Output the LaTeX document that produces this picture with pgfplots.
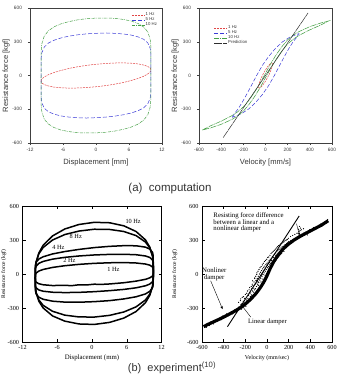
\documentclass[border=0pt]{standalone}
\usepackage{fontspec}
\setmainfont{Liberation Serif}
\setsansfont{Liberation Sans}
\usepackage{pgfplots}
\pgfplotsset{compat=1.18}
\usetikzlibrary{arrows.meta}

\definecolor{cred}{RGB}{225,70,70}
\definecolor{cblue}{RGB}{60,60,215}
\definecolor{cgreen}{RGB}{70,160,70}
\definecolor{cpred}{RGB}{45,45,45}
\definecolor{txt}{RGB}{55,55,55}
\newcommand{\fs}[1]{\fontsize{#1}{#1}\selectfont}

\pgfplotsset{
 topstyle/.style={scale only axis, tick align=outside, xtick pos=bottom, ytick pos=left,
   major tick length=2pt, tick style={black!75,thin}, axis line style={black!75,thin},
   tick label style={font=\sffamily\fs{4.8}, text=txt},
   label style={font=\sffamily\fs{7.6}, text=txt},
   /pgf/number format/assume math mode=true,
   ymin=-600, ymax=600, ytick={-600,-300,0,300,600},
   yticklabel style={xshift=-2.5pt},
   legend style={draw=none, fill=none, font=\sffamily\fs{4.3}, text=txt, nodes={inner sep=0.5pt}, row sep=-0.4pt},
   legend cell align=left,
   legend image code/.code={\draw[##1] (0pt,0pt) -- (13pt,0pt);}},
 botstyle/.style={scale only axis, tick align=inside, major tick length=3pt,
   tick style={black,thin}, axis line style={black,thin},
   tick label style={font=\rmfamily\fs{6.2}},
   label style={font=\rmfamily\fs{6.4}},
   /pgf/number format/assume math mode=true,
   ymin=-600, ymax=600, ytick={-600,-300,0,300,600}},
 loop/.style={black, line width=1.5pt, no marks, line join=round},
}

\pgfplotstableread{
v F
-262 -250
-258 -290
-251 -300
-246 -235
-240 -270
-243 -220
-236 -310
-229 -205
-233 -265
-220 -240
-224 -290
-216 -200
-210 -260
-206 -215
-200 -180
-203 -250
-195 -285
-190 -230
-187 -170
-180 -150
-176 -215
-183 -260
-170 -190
-166 -140
-173 -235
-160 -120
-157 -175
-163 -225
-154 -200
-150 -160
-146 -110
-153 -205
-140 -130
-137 -90
-143 -185
-134 -150
-130 -100
-126 -160
-133 -60
-122 -125
-120 -70
-117 -140
-124 -110
-113 -40
-110 -90
-106 -130
-114 -35
-102 -60
-100 -55
-97 -110
-104 -20
-92 -80
-95 -5
-90 -40
-86 -95
-93 10
-84 -65
-80 -20
-76 -75
-83 25
-73 -45
-78 -100
-70 0
-66 -55
-74 40
-63 -30
-60 15
-57 -40
-64 55
-53 -15
-56 -70
-50 30
-47 -20
-54 65
-44 0
-40 45
-36 -5
-43 80
-33 20
-38 -45
-30 60
-27 10
-34 95
-24 35
-20 70
-16 25
-23 110
-14 45
-18 -10
-10 85
-6 40
-13 120
-4 5
0 95
4 55
-3 130
6 20
2 75
10 105
14 65
7 145
16 30
20 120
24 80
17 150
26 45
22 100
30 130
34 95
27 165
36 60
40 140
44 105
37 180
46 75
42 120
50 155
54 115
47 190
56 90
60 165
64 130
57 200
66 100
62 145
70 175
74 140
67 210
76 115
80 185
84 150
77 220
86 125
82 165
90 195
94 160
87 230
96 140
100 205
104 170
97 240
106 150
110 215
114 180
107 250
116 160
120 220
124 190
117 255
126 170
130 230
134 200
127 265
136 180
140 240
144 210
137 270
150 245
154 220
147 280
156 200
160 255
164 230
157 285
170 260
174 240
167 295
180 270
184 245
177 300
190 275
194 255
187 305
200 285
204 260
197 315
220 295
224 270
217 330
240 305
244 285
237 340
260 315
264 300
257 350
280 330
284 310
277 360
298 340
302 320
296 375
300 420
291 395
305 385
310 405
320 350
324 335
317 390
340 360
344 345
337 400
-575 -455
-560 -470
-548 -438
-530 -455
-515 -420
-495 -440
-480 -410
-462 -418
-440 -392
-425 -405
-410 -372
-390 -385
-372 -352
-355 -368
-335 -338
-318 -352
-300 -318
-282 -340
380 372
395 390
415 378
430 410
448 395
462 420
480 412
495 440
510 425
528 452
545 448
560 480
552 465
372 345
355 368
338 340
}\scatterdata

\begin{document}
\begin{tikzpicture}
\useasboundingbox (0pt,0pt) rectangle (339pt,375pt);

% ---------------- top-left
\begin{axis}[topstyle, at={(30pt,367pt)}, anchor=north west, width=132pt, height=135pt,
  xmin=-12, xmax=12, xtick={-12,-6,0,6,12},
  xlabel={Displacement [mm]}, ylabel={Resistance force [kgf]},
  xlabel style={at={(axis description cs:0.5,-0.141)}, anchor=center},
  ylabel style={at={(axis description cs:-0.18,0.5)}, anchor=center},
  legend style={at={(rel axis cs:0.99,0.985)}, anchor=north east}]
\addplot[cred, line width=0.5pt, dash pattern=on 2pt off 1pt] coordinates {
(-10,-50) (-9.85,-32) (-9.40,-13) (-8.66,7) (-7.66,26) (-6.43,44) (-5,62) (-3.42,77) (-1.74,90) (0,100) (1.74,107) (3.42,111) (5,112) (6.43,109) (7.66,103) (8.66,93) (9.40,81) (9.85,67) (10,50)
(9.85,32) (9.40,13) (8.66,-7) (7.66,-26) (6.43,-44) (5,-62) (3.42,-77) (1.74,-90) (0,-100) (-1.74,-107) (-3.42,-111) (-5,-112) (-6.43,-109) (-7.66,-103) (-8.66,-93) (-9.40,-81) (-9.85,-67) (-10,-50)};
\addlegendentry{1 Hz}
\addplot[cblue, line width=0.5pt, dash pattern=on 4pt off 2pt] coordinates {
(-10,-20) (-9.99,117) (-9.96,160) (-9.85,202) (-9.40,253) (-8.66,288) (-7.66,313) (-6.43,333) (-5,349) (-3.42,361) (-1.74,370) (0,375) (1.74,378) (3.42,375) (5,369) (6.43,359) (7.66,343) (8.66,322) (9.40,291) (9.85,242) (9.96,200) (9.99,157) (10,20)
(9.99,-117) (9.96,-160) (9.85,-202) (9.40,-253) (8.66,-288) (7.66,-313) (6.43,-333) (5,-349) (3.42,-361) (1.74,-370) (0,-375) (-1.74,-378) (-3.42,-375) (-5,-369) (-6.43,-359) (-7.66,-343) (-8.66,-322) (-9.40,-291) (-9.85,-242) (-9.96,-200) (-9.99,-157) (-10,-20)};
\addlegendentry{5 Hz}
\addplot[cgreen, line width=0.5pt, dash pattern=on 3pt off 1pt on 0.6pt off 1pt] coordinates {
(-10,-20) (-9.99,166) (-9.96,225) (-9.85,282) (-9.40,351) (-8.66,397) (-7.66,432) (-6.43,458) (-5,478) (-3.42,494) (-1.74,505) (0,510) (1.74,511) (3.42,508) (5,498) (6.43,484) (7.66,462) (8.66,431) (9.40,389) (9.85,322) (9.96,265) (9.99,206) (10,20)
(9.99,-166) (9.96,-225) (9.85,-282) (9.40,-351) (8.66,-397) (7.66,-432) (6.43,-458) (5,-478) (3.42,-494) (1.74,-505) (0,-510) (-1.74,-511) (-3.42,-508) (-5,-498) (-6.43,-484) (-7.66,-462) (-8.66,-431) (-9.40,-389) (-9.85,-322) (-9.96,-265) (-9.99,-206) (-10,-20)};
\addlegendentry{10 Hz}
\end{axis}

% ---------------- top-right
\begin{axis}[topstyle, at={(199pt,367pt)}, anchor=north west, width=133pt, height=135pt,
  xmin=-600, xmax=600, xtick={-600,-400,-200,0,200,400,600},
  xlabel={Velocity [mm/s]}, ylabel={Resistance force [kgf]},
  xlabel style={at={(axis description cs:0.5,-0.141)}, anchor=center},
  ylabel style={at={(axis description cs:-0.18,0.5)}, anchor=center},
  legend style={at={(rel axis cs:0.09,0.89)}, anchor=north west}]
\addplot[cred, line width=0.5pt, dash pattern=on 2pt off 1pt] coordinates {
(63,100) (60.9,109.5) (54.6,111.6) (44.5,106.1) (31.5,93.3) (16.3,74.2) (0,50) (-16.3,22.4) (-31.5,-6.7) (-44.5,-35.4) (-54.6,-61.6) (-60.9,-83.7) (-63,-100) (-60.9,-109.5) (-54.6,-111.6) (-44.5,-106.1) (-31.5,-93.3) (-16.3,-74.2) (0,-50) (16.3,-22.4) (31.5,6.7) (44.5,35.4) (54.6,61.6) (60.9,83.7) (63,100)};
\addlegendentry{1 Hz}
\addplot[cblue, line width=0.5pt, dash pattern=on 4pt off 2pt] coordinates {
(-300,-372) (-282,-340) (-248,-298) (-211,-240) (-171,-170) (-128,-90) (-80,0) (-28,90) (29,170) (89,240) (152,298) (218,340) (300,372)
(282,340) (248,298) (211,240) (171,170) (128,90) (80,0) (28,-90) (-29,-170) (-89,-240) (-152,-298) (-218,-340) (-300,-372)};
\addlegendentry{5 Hz}
\addplot[cgreen, line width=0.55pt, dash pattern=on 5pt off 0.8pt on 0.8pt off 0.8pt] coordinates {
(-570,-485) (-500,-449) (-400,-406) (-300,-355) (-250,-322) (-200,-279) (-150,-221) (-100,-150) (-50,-70) (0,20) (50,110) (100,190) (150,259) (200,317) (250,358) (300,389) (400,434) (500,467) (570,485)
(500,449) (400,406) (300,355) (250,322) (200,279) (150,221) (100,150) (50,70) (0,-20) (-50,-110) (-100,-190) (-150,-259) (-200,-317) (-250,-358) (-300,-389) (-400,-434) (-500,-467) (-570,-485)};
\addlegendentry{10 Hz}
\addplot[cpred, line width=0.5pt, dash pattern=on 8pt off 0.6pt] coordinates {(-382,-552) (384,556)};
\addlegendentry{Prediction}
\end{axis}

% ---------------- bottom-left
\begin{axis}[botstyle, at={(22.5pt,169pt)}, anchor=north west, width=139pt, height=136pt,
  xmin=-12, xmax=12, xtick={-12,-6,0,6,12},
  xlabel={Displacement (mm)}, ylabel={Resistance force (kgf)},
  ylabel style={font=\rmfamily\fs{5.6}, at={(axis description cs:-0.135,0.5)}, anchor=center},
  xlabel style={font=\rmfamily\fs{6.8}, at={(axis description cs:0.5,-0.118)}, anchor=center}]
\addplot[loop] coordinates {
(-9.8,-35) (-9.76,49) (-9.65,101) (-9.18,185) (-8.43,254) (-6.81,336) (-4.7,397) (-2.24,437) (0.4,456) (3.04,452) (5.5,425) (7.61,375) (9.23,301) (9.98,237) (10.45,156) (10.56,104) (10.6,20)
(10.56,-59) (10.45,-109) (9.98,-188) (9.23,-253) (7.61,-331) (5.5,-389) (3.04,-427) (0.4,-445) (-2.24,-441) (-4.7,-416) (-6.81,-370) (-8.43,-300) (-9.18,-240) (-9.65,-163) (-9.76,-114) (-9.8,-35)};
\addplot[loop] coordinates {
(-9.8,-35) (-9.76,58) (-9.65,106) (-9.18,178) (-8.43,234) (-6.81,300) (-4.7,348) (-2.24,379) (0.4,395) (3.04,393) (5.5,375) (7.61,339) (9.23,282) (9.98,230) (10.45,160) (10.56,113) (10.6,20)
(10.56,-66) (10.45,-111) (9.98,-177) (9.23,-229) (7.61,-290) (5.5,-335) (3.04,-365) (0.4,-380) (-2.24,-379) (-4.7,-363) (-6.81,-329) (-8.43,-277) (-9.18,-229) (-9.65,-165) (-9.76,-121) (-9.8,-35)};
\addplot[loop] coordinates {
(-9.8,-35) (-9.76,82) (-9.65,104) (-9.18,132) (-8.43,152) (-6.81,177) (-4.7,198) (-2.24,217) (0.4,233) (3.04,244) (5.5,250) (7.61,249) (9.23,237) (9.98,220) (10.45,191) (10.56,164) (10.6,20)
(10.56,-94) (10.45,-120) (9.98,-153) (9.23,-176) (7.61,-201) (5.5,-220) (3.04,-235) (0.4,-244) (-2.24,-249) (-4.7,-248) (-6.81,-240) (-8.43,-223) (-9.18,-205) (-9.65,-175) (-9.76,-149) (-9.8,-35)};
\addplot[loop] coordinates {
(-9.8,-35) (-9.76,50) (-9.65,69) (-9.18,94) (-8.43,111) (-6.81,131) (-4.7,147) (-2.24,159) (0.4,168) (3.04,173) (5.5,174) (7.61,170) (9.23,159) (9.98,146) (10.45,123) (10.56,104) (10.6,20)
(10.56,-52) (10.45,-68) (9.98,-89) (9.23,-104) (7.61,-122) (5.5,-136) (3.04,-147) (0.4,-156) (-2.24,-162) (-4.7,-164) (-6.81,-161) (-8.43,-152) (-9.18,-141) (-9.65,-122) (-9.76,-106) (-9.8,-35)};
\addplot[loop] coordinates {
(-9.8,-35) (-9.76,-5) (-9.65,8) (-9.18,26) (-8.43,40) (-6.81,58) (-4.7,73) (-2.24,85) (0.4,94) (3.04,99) (5.5,101) (7.61,97) (9.23,88) (9.98,78) (10.45,62) (10.56,50) (10.6,20)
(10.56,-7) (10.45,-18) (9.98,-34) (9.23,-47) (7.61,-63) (5.5,-77) (3.04,-88) (1.5,-92) (0.4,-90) (-1,-97) (-2.24,-95) (-3.5,-103) (-4.7,-100) (-6.81,-102) (-8.43,-95) (-9.18,-86) (-9.65,-72) (-9.76,-61) (-9.8,-35)};
\node[font=\rmfamily\fs{6.3}] at (axis cs:7.1,462) {10 Hz};
\node[font=\rmfamily\fs{6.3}] at (axis cs:-2.8,330) {8 Hz};
\node[font=\rmfamily\fs{6.3}] at (axis cs:-5.8,238) {4 Hz};
\node[font=\rmfamily\fs{6.3}] at (axis cs:-3.9,118) {2 Hz};
\node[font=\rmfamily\fs{6.3}] at (axis cs:3.7,43) {1 Hz};
\end{axis}

% ---------------- bottom-right
\begin{axis}[botstyle, at={(202pt,169pt)}, anchor=north west, width=130pt, height=136pt,
  xmin=-600, xmax=600, xtick={-600,-400,-200,0,200,400,600},
  xlabel={Velocity (mm/sec)}, ylabel={Resistance force (kgf)},
  ylabel style={font=\rmfamily\fs{5.6}, at={(axis description cs:-0.21,0.5)}, anchor=center},
  xlabel style={font=\rmfamily\fs{6.0}, at={(axis description cs:0.5,-0.118)}, anchor=center}]
\addplot[black, line width=3.2pt, line join=round] coordinates {
(-585,-465) (-550,-447) (-500,-425) (-450,-403) (-400,-380) (-350,-355) (-300,-329) (-250,-300) (-200,-265) (-150,-222) (-100,-170) (-60,-118) (-30,-72) (0,-15) (30,50) (60,105) (100,165) (150,222) (200,265) (250,300) (300,329) (350,355) (400,380) (450,405) (500,430) (565,470)};
\addplot[black, only marks, mark=*, mark size=0.32pt] table[x=v, y=F] {\scatterdata};
\addplot[black, line width=0.9pt] coordinates {(-365,-465) (297,512)};
\node[font=\rmfamily\fs{6.8}, align=left, anchor=north west, inner sep=0pt, text depth=0pt] at (axis cs:-496,545) {\baselineskip=7.6pt Resisting force difference\\between a linear and a\\nonlinear damper};
\draw[-{Stealth[length=3pt,width=2.4pt]}, thin] (axis cs:272,445) -- (axis cs:300,340);
\node[font=\rmfamily\fs{6.8}, align=center, inner sep=0pt] at (axis cs:-487,-5) {Nonliner\\damper};
\draw[-{Stealth[length=3pt,width=2.4pt]}, thin] (axis cs:-520,-60) -- (axis cs:-410,-310);
\node[font=\rmfamily\fs{6.6}, inner sep=0pt] at (axis cs:5,-425) {Linear damper};
\draw[-{Stealth[length=3pt,width=2.4pt]}, thin] (axis cs:-150,-380) -- (axis cs:-233,-278);
\end{axis}

% captions
\node[font=\sffamily\fs{11.5}, text=black!80] at (170pt,186pt) {(a)\ \ computation};
\node[font=\sffamily\fs{11}, text=black!80, anchor=base, inner sep=0pt] at (172pt,3.2pt) {(b)\ \ experiment\textsuperscript{(10)}};
\end{tikzpicture}
\end{document}
